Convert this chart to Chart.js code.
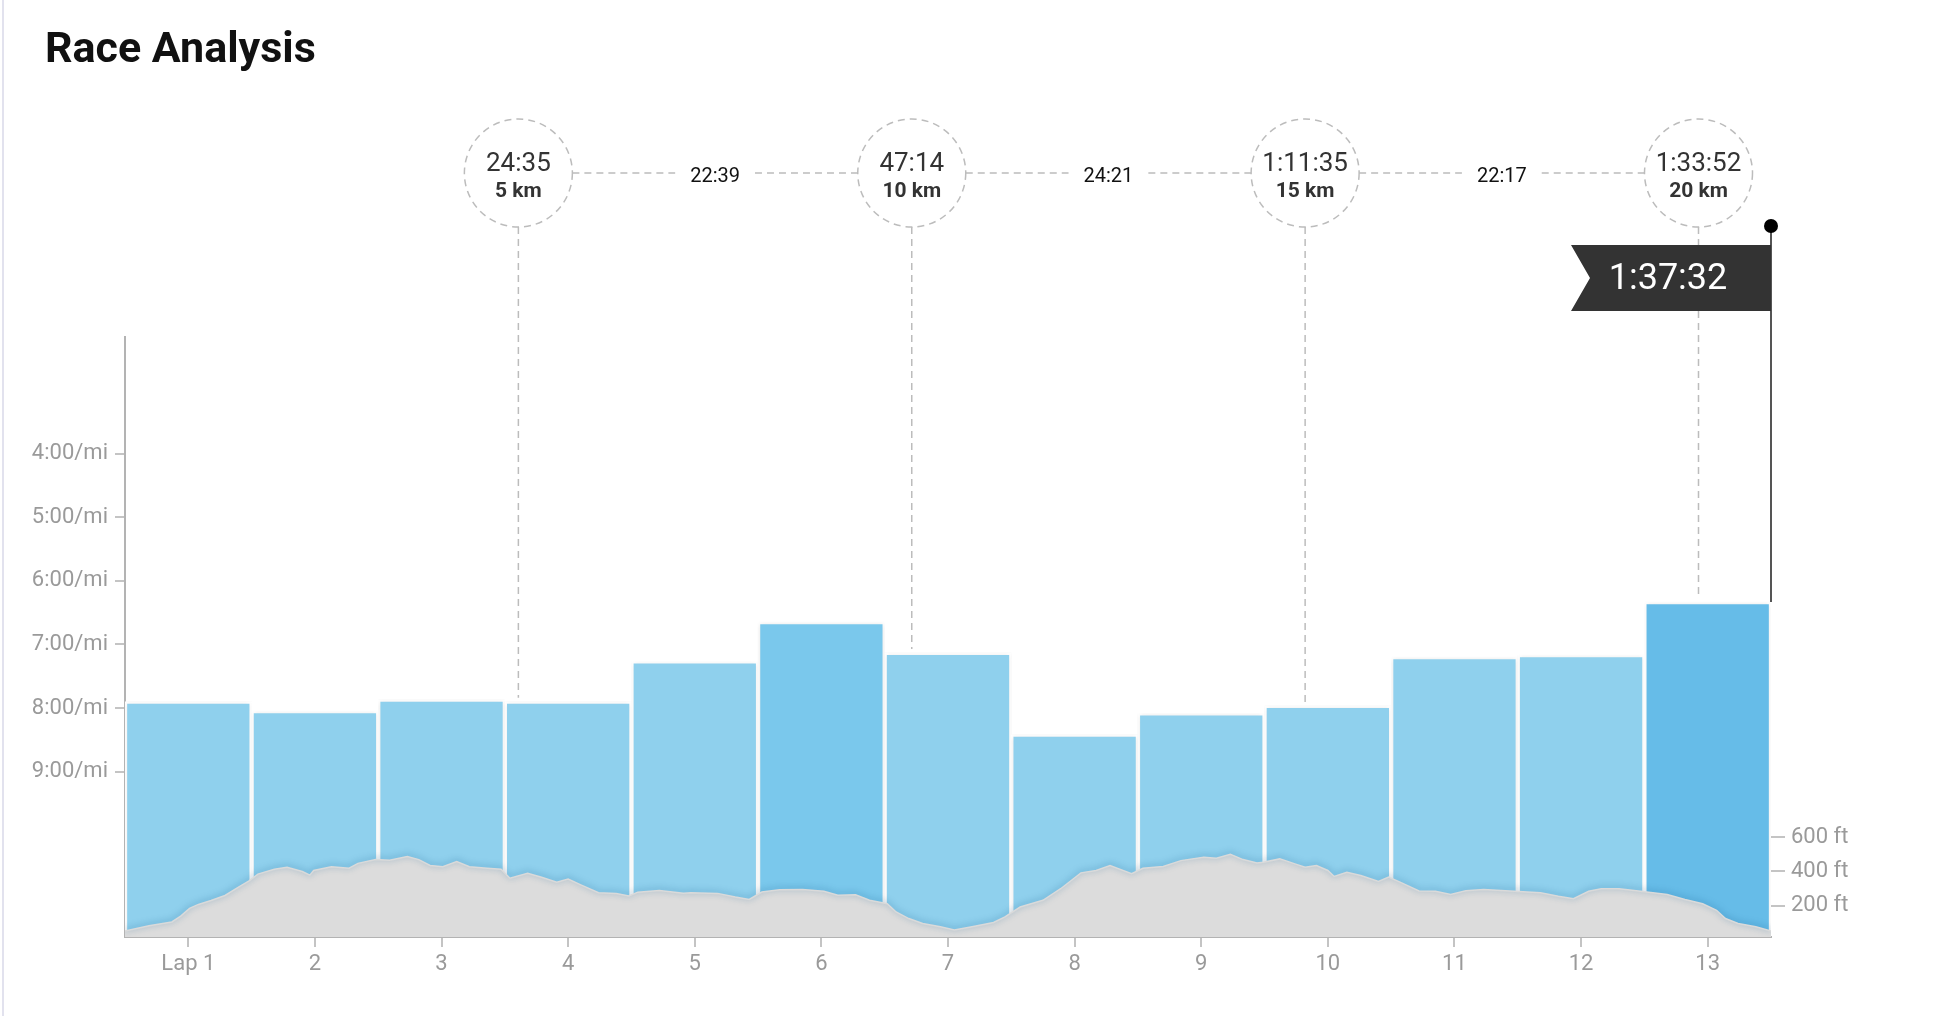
<!DOCTYPE html>
<html>
<head>
<meta charset="utf-8">
<title>Race Analysis</title>
<script src="https://cdn.jsdelivr.net/npm/chart.js@4.4.1/dist/chart.umd.min.js"></script>
<style>
  html, body { margin: 0; padding: 0; background: #fff; }
  #wrap { position: relative; width: 1938px; height: 1016px; }
</style>
</head>
<body>
<div id="wrap"><canvas id="race-chart"></canvas></div>
<script>
const LAPS = ["Lap 1", "2", "3", "4", "5", "6", "7", "8", "9", "10", "11", "12", "13"];
// pace per lap in seconds per mile
const LAP_PACE_SEC = [474, 483, 472, 474, 436, 399, 428, 505, 485, 478, 432, 430, 380];
const PACE_TICKS = [240, 300, 360, 420, 480, 540];
const PACE_MIN = 130;
const PACE_MAX = 696;

// elevation profile: distance (mi) and height (ft)
const ELEV_MI = [0.00, 0.19, 0.37, 0.44, 0.51, 0.58, 0.68, 0.79, 0.89, 0.98, 1.05, 1.18, 1.28, 1.40, 1.46, 1.49,
    1.63, 1.77, 1.84, 1.98, 2.09, 2.23, 2.32, 2.41, 2.51, 2.62, 2.72, 2.86, 2.97, 3.04, 3.18, 3.29, 3.41, 3.50,
    3.60, 3.74, 3.88, 3.98, 4.05, 4.22, 4.41, 4.47, 4.68, 4.82, 4.93, 5.03, 5.17, 5.35, 5.52, 5.63, 5.77, 5.88,
    6.02, 6.09, 6.19, 6.30, 6.44, 6.55, 6.69, 6.86, 6.95, 7.07, 7.25, 7.39, 7.55, 7.67, 7.78, 7.95, 8.04, 8.20,
    8.34, 8.52, 8.62, 8.73, 8.83, 8.94, 8.99, 9.12, 9.24, 9.32, 9.41, 9.50, 9.55, 9.65, 9.76, 9.90, 9.98, 10.07,
    10.22, 10.35, 10.47, 10.59, 10.73, 10.97, 11.18, 11.32, 11.44, 11.56, 11.66, 11.80, 11.97, 12.18, 12.32,
    12.46, 12.57, 12.64, 12.74, 12.88, 13.00];
const ELEV_FT = [55, 85, 107, 141, 186, 209, 232, 261, 306, 345, 385, 413, 424, 400, 379, 406,
    428, 419, 447, 469, 465, 487, 469, 435, 428, 458, 428, 419, 413, 361, 390, 367, 338, 356,
    322, 277, 272, 258, 280, 290, 274, 277, 273, 252, 238, 281, 294, 296, 285, 262, 265, 233,
    213, 165, 127, 98, 79, 60, 79, 104, 137, 194, 233, 300, 392, 406, 435, 387, 419, 429,
    463, 483, 477, 500, 469, 449, 454, 473, 444, 425, 435, 406, 371, 396, 377, 342, 367, 338,
    287, 285, 267, 288, 296, 285, 277, 256, 242, 285, 300, 300, 285, 267, 237,
    213, 175, 127, 98, 79, 55];
const ELEV_TICKS = [200, 400, 600];
const ELEV_MIN = 20;
const ELEV_MAX = 3500;

const SPLIT_KM = [5, 10, 15, 20];
const SPLIT_TIMES = ["24:35", "47:14", "1:11:35", "1:33:52"];
const SPLIT_DELTAS = ["22:39", "24:21", "22:17"];
const FINISH_TIME = "1:37:32";
const KM_PER_MI = 1.609344;

const FONT = "Roboto";
const sortedPace = LAP_PACE_SEC.slice().sort((a, b) => a - b);

function paceLabel(v) {
    const s = String(v % 60).padStart(2, "0");
    return `${Math.floor(v / 60)}:${s}/mi`;
}

function barColor(ctx) {
    const v = LAP_PACE_SEC[ctx.dataIndex];
    if (v === sortedPace[0]) return "#66bce8";
    if (v === sortedPace[1]) return "#7ac8ec";
    return "#8fd0ed";
}

// title, split circles and the finish flag
const raceMarks = {
    id: "raceMarks",
    beforeDraw(chart) {
        const ctx = chart.ctx;
        ctx.save();
        ctx.fillStyle = "#e2e2ee";
        ctx.fillRect(2, 0, 2, chart.height);
        ctx.fillStyle = "#111";
        ctx.font = `bold 43px ${FONT}`;
        ctx.textBaseline = "alphabetic";
        ctx.textAlign = "left";
        ctx.fillText("Race Analysis", 45, 62);
        ctx.restore();
    },
    beforeDatasetDraw(chart, args) {
        const ctx = chart.ctx;
        ctx.save();
        if (args.index === 0) {
            ctx.shadowColor = "rgba(0, 0, 0, 0.10)";
            ctx.shadowBlur = 5;
        } else {
            ctx.shadowColor = "rgba(20, 90, 140, 0.6)";
            ctx.shadowBlur = 6;
            ctx.shadowOffsetY = -1;
        }
    },
    afterDatasetDraw(chart) {
        chart.ctx.restore();
    },
    afterDraw(chart) {
        const ctx = chart.ctx;
        const xe = chart.scales.xe;
        const bars = chart.getDatasetMeta(0).data;
        const barTop = mi => bars[Math.min(Math.floor(mi), bars.length - 1)].y;
        const cy = 173;
        const r = 54;
        const xs = SPLIT_KM.map(km => xe.getPixelForValue(km / KM_PER_MI));

        ctx.save();
        ctx.strokeStyle = "#bcbcbc";
        ctx.lineWidth = 1.5;
        ctx.setLineDash([7, 5]);

        // connectors with split durations
        ctx.font = `20px ${FONT}`;
        ctx.textAlign = "center";
        ctx.textBaseline = "middle";
        for (let i = 0; i < xs.length - 1; i++) {
            const mid = (xs[i] + xs[i + 1]) / 2;
            const w = ctx.measureText(SPLIT_DELTAS[i]).width / 2 + 15;
            ctx.beginPath();
            ctx.moveTo(xs[i] + r, cy);
            ctx.lineTo(mid - w, cy);
            ctx.moveTo(mid + w, cy);
            ctx.lineTo(xs[i + 1] - r, cy);
            ctx.stroke();
            ctx.fillStyle = "#111";
            ctx.fillText(SPLIT_DELTAS[i], mid, cy + 4);
        }

        xs.forEach((x, i) => {
            const mi = SPLIT_KM[i] / KM_PER_MI;
            ctx.beginPath();
            ctx.moveTo(x, cy + r);
            ctx.lineTo(x, barTop(mi) - 4);
            ctx.stroke();

            ctx.beginPath();
            ctx.arc(x, cy, r, 0, Math.PI * 2);
            ctx.fillStyle = "#fff";
            ctx.fill();
            ctx.stroke();

            ctx.fillStyle = "#333";
            ctx.font = `26px ${FONT}`;
            ctx.fillText(SPLIT_TIMES[i], x, cy - 9);
            ctx.font = `bold 21px ${FONT}`;
            ctx.fillText(`${SPLIT_KM[i]} km`, x, cy + 19);
        });
        ctx.setLineDash([]);

        // finish flag
        const fx = xe.getPixelForValue(LAPS.length);
        const fy = 226;
        ctx.strokeStyle = "#555";
        ctx.lineWidth = 2;
        ctx.beginPath();
        ctx.moveTo(fx, fy);
        ctx.lineTo(fx, bars[bars.length - 1].y);
        ctx.stroke();

        ctx.fillStyle = "#333";
        ctx.beginPath();
        ctx.moveTo(fx, 245);
        ctx.lineTo(fx - 200, 245);
        ctx.lineTo(fx - 181, 278);
        ctx.lineTo(fx - 200, 311);
        ctx.lineTo(fx, 311);
        ctx.closePath();
        ctx.fill();

        ctx.fillStyle = "#000";
        ctx.beginPath();
        ctx.arc(fx, fy, 7, 0, Math.PI * 2);
        ctx.fill();

        ctx.fillStyle = "#fff";
        ctx.font = `36px ${FONT}`;
        ctx.fillText(FINISH_TIME, fx - 103, 280);
        ctx.restore();
    }
};

const tickFont = { family: FONT, size: 22 };
const tickColor = "#9a9a9a";

const ctx = document.getElementById("race-chart").getContext("2d");
const raceChart = new Chart(ctx, {
    type: "bar",
    data: {
        labels: LAPS,
        datasets: [
            {
                type: "bar",
                data: LAP_PACE_SEC,
                base: PACE_MAX,
                xAxisID: "x",
                yAxisID: "y",
                backgroundColor: barColor,
                borderColor: "#fff",
                borderWidth: 2.5,
                barPercentage: 1,
                categoryPercentage: 1,
                grouped: false,
                order: 2
            },
            {
                type: "line",
                data: ELEV_MI.map((m, i) => ({ x: m, y: ELEV_FT[i] })),
                xAxisID: "xe",
                yAxisID: "yE",
                fill: "start",
                backgroundColor: "#dcdcdc",
                borderColor: "#dadada",
                borderWidth: 1.5,
                pointRadius: 0,
                tension: 0,
                order: 1
            }
        ]
    },
    options: {
        responsive: true,
        maintainAspectRatio: false,
        animation: false,
        layout: { padding: { top: 337, left: 0, right: 0, bottom: 0 } },
        plugins: {
            legend: { display: false },
            tooltip: { enabled: false }
        },
        scales: {
            x: {
                type: "category",
                offset: true,
                grid: { drawOnChartArea: false, offset: false, tickLength: 10, color: "#c4c4c4", lineWidth: 2 },
                border: { color: "#b3b3b3", width: 2 },
                ticks: { color: tickColor, font: tickFont, padding: 4 },
                afterFit(scale) { scale.height = 79; }
            },
            xe: {
                type: "linear",
                position: "bottom",
                offset: false,
                min: 0,
                max: LAPS.length,
                grid: { display: false },
                border: { display: false },
                ticks: { display: false },
                afterFit(scale) { scale.height = 0; }
            },
            y: {
                position: "left",
                reverse: true,
                min: PACE_MIN,
                max: PACE_MAX,
                afterBuildTicks(scale) { scale.ticks = PACE_TICKS.map(v => ({ value: v })); },
                ticks: { color: tickColor, font: tickFont, padding: 7, callback: v => paceLabel(v) },
                grid: { drawOnChartArea: false, tickLength: 10, color: "#c4c4c4", lineWidth: 2 },
                border: { color: "#b3b3b3", width: 2 },
                afterFit(scale) { scale.width = 125; }
            },
            yE: {
                position: "right",
                min: ELEV_MIN,
                max: ELEV_MAX,
                afterBuildTicks(scale) { scale.ticks = ELEV_TICKS.map(v => ({ value: v })); },
                ticks: { color: tickColor, font: tickFont, padding: 6, callback: v => `${v} ft` },
                grid: { drawOnChartArea: false, tickLength: 14, color: "#c4c4c4", lineWidth: 2 },
                border: { display: false },
                afterFit(scale) { scale.width = 167; }
            }
        }
    },
    plugins: [raceMarks]
});
</script>
</body>
</html>
